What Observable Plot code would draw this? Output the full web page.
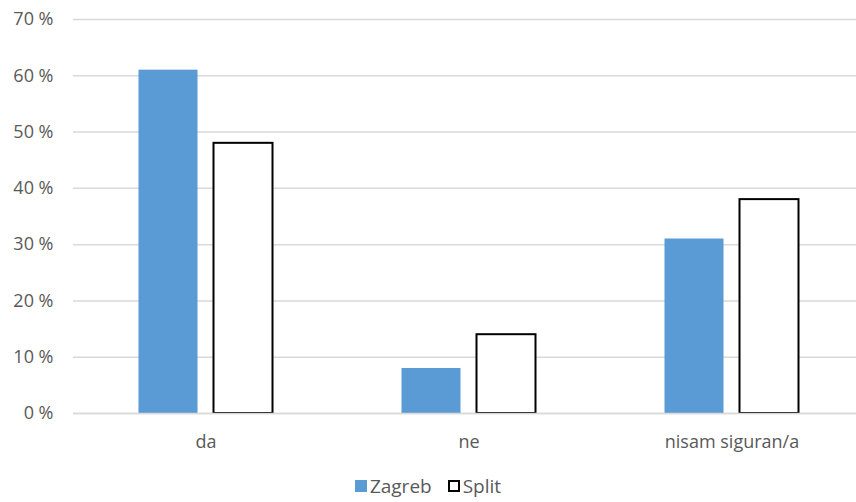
<!DOCTYPE html>
<html>
<head>
<meta charset="utf-8">
<script src="https://cdn.jsdelivr.net/npm/d3@7"></script>
<script src="https://cdn.jsdelivr.net/npm/@observablehq/plot@0.6"></script>
<style>
  html, body { margin: 0; padding: 0; background: #fff; }
  #chart { width: 856px; height: 470px; }
  .legend { display: flex; justify-content: center; align-items: center; height: 30px; margin-top: 1px;
    font-family: "Open Sans", sans-serif; font-size: 19px; line-height: 24px; color: #595959; }
  .legend .item { display: flex; align-items: center; margin: 0 8px; }
  .legend .sw { width: 12px; height: 12px; margin-right: 3px; box-sizing: border-box; }
  svg { display: block; }
</style>
</head>
<body>
<div id="chart"></div>
<script>
const categories = ["da", "ne", "nisam siguran/a"];
const series = ["Zagreb", "Split"];
const zagreb = [61, 8, 31];
const split = [48, 14, 38];
const yTicks = [0, 10, 20, 30, 40, 50, 60, 70];
const colors = { Zagreb: "#5B9BD5", Split: "#ffffff" };

const zData = categories.map((c, i) => ({ cat: c, value: zagreb[i] }));
const sData = categories.map((c, i) => ({ cat: c, value: split[i] }));

const font = '"Open Sans", sans-serif';
const plot = Plot.plot({
  width: 856,
  height: 470,
  marginLeft: 73,
  marginRight: -7,
  marginTop: 19,
  marginBottom: 57,
  style: { fontFamily: font, fontSize: "18px", color: "#595959", background: "#fff" },
  x: { domain: categories, paddingInner: 0.776, paddingOuter: 0.388, label: null },
  y: { domain: [0, 70], label: null },
  marks: [
    Plot.ruleY(yTicks, { stroke: "#d9d9d9", strokeWidth: 1.5 }),
    Plot.barY(zData, { x: "cat", y: "value", fill: colors.Zagreb, dx: -37.5 }),
    Plot.barY(sData, { x: "cat", y: "value", fill: colors.Split, stroke: "#000", strokeWidth: 2, dx: 37.5 }),
    Plot.ruleY([0], { stroke: "#d9d9d9", strokeWidth: 1.5 }),
    Plot.axisY({ ticks: yTicks, tickSize: 0, tickPadding: 20, tickFormat: d => d + " %", label: null, fontSize: 18 }),
    Plot.axisX({ tickSize: 0, tickPadding: 22, label: null, fontSize: 18 })
  ]
});
document.getElementById("chart").appendChild(plot);

const legend = document.createElement("div");
legend.className = "legend";
series.forEach(s => {
  const item = document.createElement("div");
  item.className = "item";
  const sw = document.createElement("div");
  sw.className = "sw";
  sw.style.background = colors[s];
  if (s === "Split") sw.style.border = "2px solid #000";
  item.appendChild(sw);
  const t = document.createElement("span");
  t.textContent = s;
  item.appendChild(t);
  legend.appendChild(item);
});
document.body.appendChild(legend);
</script>
</body>
</html>
